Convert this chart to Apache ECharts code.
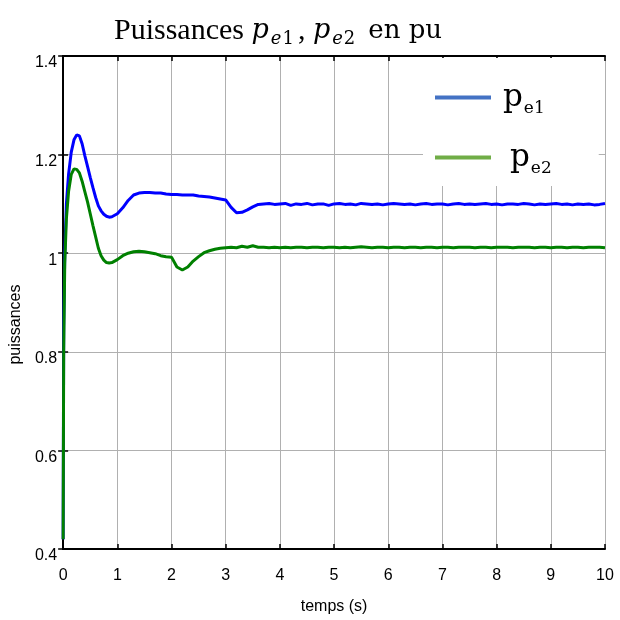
<!DOCTYPE html>
<html>
<head>
<meta charset="utf-8">
<script src="https://cdn.jsdelivr.net/npm/echarts@6/dist/echarts.min.js"></script>
<style>
	html, body { margin: 0; padding: 0; background: #fff; }
	#container { width: 620px; height: 620px; }
</style>
</head>
<body>
<div id="container"></div>
<script>
	// temps (s)
	var temps = [0, 0.01, 0.03, 0.06, 0.1, 0.15, 0.2, 0.25, 0.3, 0.35, 0.4, 0.45, 0.5, 0.55, 0.6, 0.65, 0.7, 0.75, 0.8, 0.85, 0.9,
		1.0, 1.1, 1.2, 1.3, 1.4, 1.5, 1.6, 1.7, 1.8, 1.9, 2.0, 2.1, 2.2, 2.3, 2.4, 2.5, 2.6, 2.7, 2.8, 2.9, 3.0,
		3.1, 3.2, 3.3, 3.4, 3.5, 3.6, 3.7, 3.8, 3.9, 4.0,
		4.1, 4.2, 4.3, 4.4, 4.5, 4.6, 4.7, 4.8, 4.9, 5.0,
		5.1, 5.2, 5.3, 5.4, 5.5, 5.6, 5.7, 5.8, 5.9, 6.0,
		6.1, 6.2, 6.3, 6.4, 6.5, 6.6, 6.7, 6.8, 6.9, 7.0,
		7.1, 7.2, 7.3, 7.4, 7.5, 7.6, 7.7, 7.8, 7.9, 8.0,
		8.1, 8.2, 8.3, 8.4, 8.5, 8.6, 8.7, 8.8, 8.9, 9.0,
		9.1, 9.2, 9.3, 9.4, 9.5, 9.6, 9.7, 9.8, 9.9, 10.0];

	var pe1 = [0.42, 0.85, 1.00, 1.10, 1.16, 1.205, 1.23, 1.240, 1.238, 1.222, 1.198, 1.176, 1.154, 1.133, 1.113, 1.096, 1.086, 1.079, 1.075, 1.073, 1.074,
		1.080, 1.092, 1.107, 1.118, 1.122, 1.123, 1.123, 1.122, 1.122, 1.120, 1.119, 1.119, 1.118, 1.118, 1.118, 1.116, 1.115, 1.114, 1.112, 1.110, 1.108,
		1.093, 1.082, 1.083, 1.088, 1.094, 1.099, 1.100, 1.101, 1.099, 1.100,
		1.101, 1.097, 1.100, 1.099, 1.101, 1.098, 1.100, 1.100, 1.097, 1.100,
		1.101, 1.099, 1.100, 1.098, 1.101, 1.100, 1.099, 1.100, 1.098, 1.100,
		1.101, 1.100, 1.099, 1.100, 1.098, 1.100, 1.101, 1.099, 1.100, 1.100,
		1.098, 1.100, 1.101, 1.099, 1.100, 1.099, 1.100, 1.101, 1.099, 1.100,
		1.098, 1.100, 1.100, 1.099, 1.101, 1.100, 1.098, 1.100, 1.099, 1.100,
		1.101, 1.099, 1.100, 1.098, 1.100, 1.099, 1.100, 1.098, 1.099, 1.101];

	var pe2 = [0.42, 0.80, 0.98, 1.07, 1.125, 1.160, 1.171, 1.170, 1.163, 1.146, 1.125, 1.104, 1.080, 1.056, 1.033, 1.010, 0.995, 0.986, 0.981, 0.980, 0.981,
		0.987, 0.995, 1.000, 1.003, 1.004, 1.003, 1.001, 0.999, 0.995, 0.993, 0.992, 0.972, 0.966, 0.972, 0.984, 0.993, 1.001, 1.005, 1.008, 1.010, 1.011,
		1.012, 1.011, 1.014, 1.012, 1.015, 1.012, 1.012, 1.011, 1.012, 1.011,
		1.012, 1.011, 1.012, 1.012, 1.011, 1.012, 1.012, 1.011, 1.012, 1.012,
		1.011, 1.012, 1.011, 1.012, 1.013, 1.012, 1.011, 1.012, 1.012, 1.011,
		1.012, 1.012, 1.011, 1.012, 1.012, 1.011, 1.012, 1.012, 1.011, 1.012,
		1.012, 1.011, 1.012, 1.012, 1.012, 1.011, 1.012, 1.012, 1.011, 1.012,
		1.012, 1.012, 1.011, 1.012, 1.012, 1.012, 1.011, 1.012, 1.012, 1.011,
		1.012, 1.012, 1.011, 1.012, 1.012, 1.011, 1.012, 1.012, 1.012, 1.011];

	var seriesNames = ['pe1', 'pe2'];
	var legendSub = { pe1: 'e1', pe2: 'e2' };

	function toPairs(ys) {
		var out = [];
		for (var i = 0; i < temps.length; i++) {
			out.push([temps[i], ys[i]]);
		}
		return out;
	}

	var myChart = echarts.init(document.getElementById('container'));

	var sans = 'Liberation Sans';
	var serif = 'Liberation Serif';
	var math = 'DejaVu Serif';

	var option = {
		backgroundColor: '#fff',
		animation: false,
		title: {
			left: 114,
			top: 13,
			padding: 0,
			text: '{a|Puissances }{i|p}{s|e}{d|1}{a|, }{i|p}{s|e}{d|2}{b|en pu}',
			textStyle: {
				fontWeight: 'normal',
				rich: {
					a: { fontFamily: serif, fontWeight: 'normal', fontSize: 30, lineHeight: 36, color: '#000' },
					b: { fontFamily: math, fontWeight: 'normal', fontSize: 26, lineHeight: 36, color: '#000', padding: [0, 0, 0, 9] },
					i: { fontFamily: math, fontWeight: 'normal', fontStyle: 'italic', fontSize: 27, lineHeight: 36, color: '#000' },
					s: { fontFamily: math, fontWeight: 'normal', fontStyle: 'italic', fontSize: 18, lineHeight: 20, padding: [17, 0, 0, 2], color: '#000' },
					d: { fontFamily: math, fontWeight: 'normal', fontSize: 18, lineHeight: 20, padding: [17, 4, 0, 1], color: '#000' }
				}
			}
		},
		legend: {
			orient: 'vertical',
			left: 423,
			top: 58,
			padding: [20, 47, 9, 12],
			itemGap: 21,
			itemWidth: 56,
			itemHeight: 4,
			backgroundColor: '#fff',
			borderWidth: 0,
			data: [
				{ name: 'pe1', icon: 'rect', itemStyle: { color: '#4472C4' } },
				{ name: 'pe2', icon: 'rect', itemStyle: { color: '#70AD47' } }
			],
			formatter: function (name) {
				return '{' + (name === 'pe1' ? 'p' : 'q') + '|p}{s|' + legendSub[name] + '}';
			},
			textStyle: {
				rich: {
					p: { fontFamily: math, fontSize: 31, lineHeight: 40, color: '#000', padding: [0, 0, 0, 7] },
					q: { fontFamily: math, fontSize: 31, lineHeight: 40, color: '#000', padding: [0, 0, 0, 14] },
					s: { fontFamily: math, fontSize: 17, lineHeight: 20, color: '#000', padding: [22, 0, 0, 1] }
				}
			}
		},
		grid: {
			left: 63,
			right: 15,
			top: 56,
			bottom: 70
		},
		xAxis: [{
			type: 'value',
			min: 0,
			max: 10,
			interval: 1,
			name: 'temps (s)',
			nameLocation: 'middle',
			nameGap: 50,
			nameTextStyle: { fontFamily: sans, fontSize: 16, color: '#000' },
			axisLine: { lineStyle: { color: '#000', width: 2 } },
			axisTick: { inside: true, length: 5, lineStyle: { color: '#000', width: 1.5 } },
			axisLabel: { fontFamily: sans, fontSize: 16, color: '#000', margin: 19 },
			splitLine: { show: true, lineStyle: { color: '#b0b0b0', width: 1 } }
		}, {
			type: 'value',
			position: 'top',
			min: 0,
			max: 10,
			interval: 1,
			axisLine: { lineStyle: { color: '#000', width: 2 } },
			axisTick: { inside: true, length: 5, lineStyle: { color: '#000', width: 1.5 } },
			axisLabel: { show: false },
			splitLine: { show: false }
		}],
		yAxis: [{
			type: 'value',
			min: 0.4,
			max: 1.4,
			interval: 0.2,
			name: 'puissances',
			nameLocation: 'middle',
			nameGap: 34,
			nameTextStyle: { fontFamily: sans, fontSize: 16, color: '#000', padding: [0, 44, 0, 0] },
			axisLine: { lineStyle: { color: '#000', width: 2 } },
			axisTick: { inside: true, length: 5, lineStyle: { color: '#000', width: 1.5 } },
			axisLabel: { fontFamily: sans, fontSize: 16, color: '#000', margin: 6, verticalAlign: 'top', lineHeight: 14 },
			splitLine: { show: true, lineStyle: { color: '#b0b0b0', width: 1 } }
		}, {
			type: 'value',
			position: 'right',
			min: 0.4,
			max: 1.4,
			interval: 0.2,
			axisLine: { lineStyle: { color: '#000', width: 2 } },
			axisTick: { inside: true, length: 5, lineStyle: { color: '#000', width: 1.5 } },
			axisLabel: { show: false },
			splitLine: { show: false }
		}],
		series: [{
			name: seriesNames[0],
			type: 'line',
			data: toPairs(pe1),
			showSymbol: false,
			symbol: 'none',
			lineStyle: { color: '#0000ff', width: 3 },
			itemStyle: { color: '#0000ff' }
		}, {
			name: seriesNames[1],
			type: 'line',
			data: toPairs(pe2),
			showSymbol: false,
			symbol: 'none',
			lineStyle: { color: '#008000', width: 3 },
			itemStyle: { color: '#008000' }
		}]
	};

	myChart.setOption(option);
</script>
</body>
</html>
